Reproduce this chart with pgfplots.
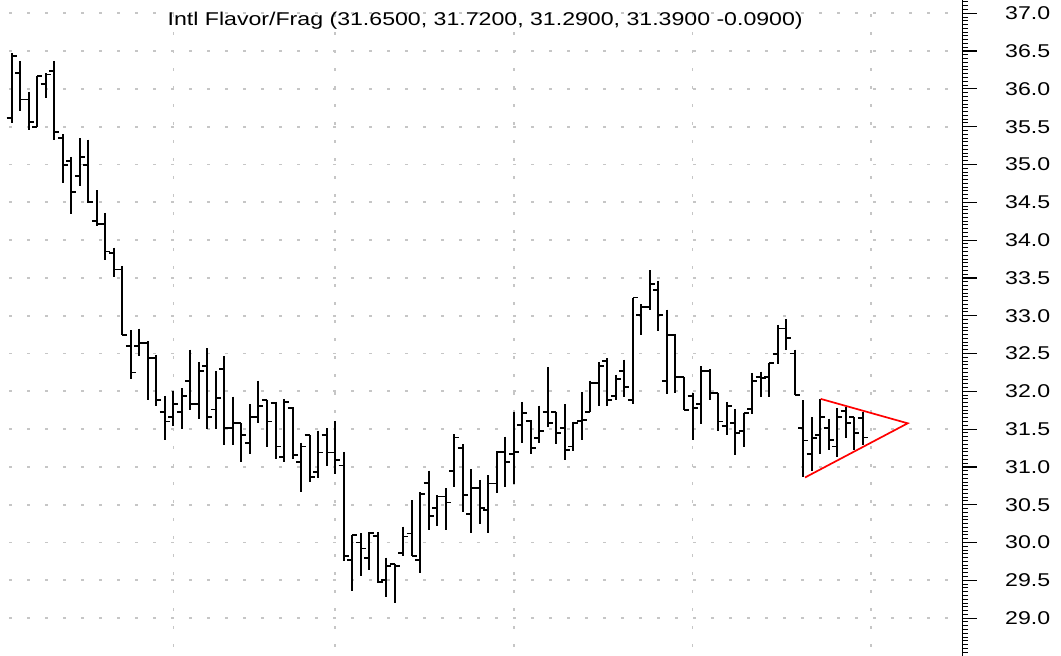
\documentclass[border=0pt]{standalone}
\usepackage{fontspec}
\setmainfont{Liberation Sans}[FakeStretch=1.25]
\usepackage{pgfplots}
\usepackage{pgfplotstable}
\pgfplotsset{compat=1.18}
\pgfdeclareplotmark{openl}{\pgfpathmoveto{\pgfqpoint{-5pt}{0pt}}\pgfpathlineto{\pgfqpoint{0pt}{0pt}}\pgfusepathqstroke}
\pgfdeclareplotmark{closer}{\pgfpathmoveto{\pgfqpoint{0pt}{0pt}}\pgfpathlineto{\pgfqpoint{5pt}{0pt}}\pgfusepathqstroke}
\pgfplotstableread{
i o h l c
1 35.62 36.47 35.55 36.43
2 36.21 36.37 35.71 35.86
3 35.86 35.96 35.46 35.56
4 35.50 36.17 35.50 36.17
5 36.06 36.21 35.88 36.19
6 36.24 36.37 35.32 35.43
7 35.35 35.40 34.76 34.99
8 35.05 35.10 34.35 34.64
9 34.85 35.35 34.71 35.10
10 34.99 35.33 34.49 34.50
11 34.25 34.66 34.18 34.21
12 34.21 34.36 33.74 33.85
13 33.83 33.90 33.51 33.61
14 33.61 33.66 32.74 32.74
15 32.60 32.81 32.16 32.25
16 32.60 32.83 32.47 32.64
17 32.64 32.66 31.88 32.44
18 32.44 32.48 31.80 31.89
19 31.73 31.94 31.36 31.60
20 31.66 32.01 31.54 31.83
21 31.73 32.04 31.50 31.94
22 32.14 32.55 31.75 31.83
23 31.83 32.39 31.63 32.27
24 32.34 32.57 31.50 31.66
25 31.76 32.27 31.50 31.91
26 32.29 32.47 31.29 31.52
27 31.51 31.93 31.29 31.58
28 31.58 31.58 31.06 31.42
29 31.32 31.83 31.17 31.66
30 31.66 32.14 31.58 31.81
31 31.88 31.89 31.27 31.60
32 31.85 31.86 31.11 31.27
33 31.13 31.90 31.06 31.86
34 31.78 31.79 31.11 31.16
35 31.07 31.32 30.67 31.27
36 31.42 31.42 30.80 30.87
37 30.93 31.48 30.85 31.19
38 31.42 31.51 31.01 31.19
39 31.19 31.61 30.91 31.09
40 31.02 31.20 29.75 29.82
41 29.77 30.10 29.36 30.10
42 30.00 30.12 29.56 29.92
43 29.79 30.14 29.64 30.13
44 30.09 30.14 29.46 29.48
45 29.50 29.80 29.28 29.69
46 29.72 29.72 29.20 29.69
47 29.86 30.21 29.82 30.08
48 30.12 30.56 29.82 29.82
49 29.77 30.67 29.60 30.64
50 30.79 30.95 30.17 30.35
51 30.46 30.63 30.22 30.61
52 30.61 30.72 30.17 30.53
53 30.95 31.43 30.73 31.39
54 31.25 31.30 30.40 30.63
55 30.38 30.97 30.12 30.72
56 30.72 30.83 30.24 30.46
57 30.43 30.89 30.12 30.78
58 30.78 31.21 30.66 31.20
59 31.20 31.40 30.74 31.07
60 31.17 31.73 30.78 31.20
61 31.55 31.86 31.32 31.71
62 31.61 31.62 31.17 31.25
63 31.38 31.81 31.31 31.47
64 31.73 32.32 31.53 31.58
65 31.73 31.73 31.30 31.45
66 31.51 31.83 31.09 31.22
67 31.27 31.60 31.21 31.58
68 31.61 31.99 31.35 31.62
69 31.73 32.14 31.73 32.11
70 32.11 32.39 31.81 32.33
71 32.40 32.44 31.80 31.89
72 31.94 32.22 31.88 32.16
73 32.27 32.42 31.92 32.06
74 31.88 33.24 31.83 33.24
75 33.01 33.15 32.74 33.11
76 33.11 33.60 33.08 33.42
77 33.34 33.46 32.80 33.01
78 32.14 33.08 31.97 32.75
79 32.75 32.76 31.98 32.19
80 32.19 32.19 31.75 31.75
81 31.94 31.98 31.36 31.78
82 31.83 32.33 31.57 32.27
83 32.27 32.29 31.89 31.98
84 31.98 31.98 31.47 31.60
85 31.54 31.86 31.42 31.81
86 31.58 31.76 31.16 31.45
87 31.48 31.71 31.27 31.71
88 31.77 32.24 31.70 32.14
89 32.19 32.26 31.93 32.18
90 32.19 32.38 31.93 32.37
91 32.49 32.88 32.36 32.83
92 32.83 32.95 32.55 32.70
93 32.50 32.55 31.95 31.95
94 31.52 31.88 30.86 31.35
95 31.17 31.66 30.94 31.38
96 31.42 31.90 31.17 31.66
97 31.52 31.64 31.23 31.36
98 31.27 31.78 31.13 31.66
99 31.74 31.79 31.38 31.58
100 31.66 31.66 31.23 31.45
101 31.65 31.72 31.29 31.39
}\ohlc
\begin{document}
\begin{tikzpicture}
\path[use as bounding box] (0,0) rectangle (1061pt,656pt);
\begin{axis}[
  at={(0pt,0pt)}, anchor=south west,
  scale only axis, width=962.7pt, height=656pt,
  xmin=-0.375, xmax=112.75,
  ymin=28.499, ymax=37.176,
  axis y line=right, axis x line=bottom,
  x axis line style={draw=none},
  y axis line style={-, line width=1.3pt, black},
  xtick={20,39,60,81,102}, xticklabels={}, xtick style={draw=none},
  ytick={29,29.5,...,37},
  minor ytick={28.55,28.6,...,37.16},
  tick align=outside,
  major tick length=14pt, minor tick length=5pt,
  ytick style={line width=1.2pt, black},
  minor y tick style={line width=1pt, black},
  xmajorgrids, ymajorgrids,
  major grid style={line width=1.7pt, gray!45, dash pattern=on 2.7pt off 15.3pt, dash phase=8.7pt},
  yticklabel pos=right,
  yticklabel style={anchor=west, font=\fontsize{18.5}{21}\selectfont, xshift=25pt},
  /pgf/number format/assume math mode=true,
  yticklabel={\pgfmathprintnumber[fixed, fixed zerofill, precision=1]{\tick}},
  clip=false,
]
\addplot[draw=none, error bars/.cd, y dir=minus, y explicit, error mark=none,
  error bar style={draw=black, line width=2pt}]
  table[x=i, y=h, y error minus expr=\thisrow{h}-\thisrow{l}] {\ohlc};
\addplot[only marks, mark=openl, mark options={line width=1.8pt, black}] table[x=i, y=o] {\ohlc};
\addplot[only marks, mark=closer, mark options={line width=1.8pt, black}] table[x=i, y=c] {\ohlc};
\addplot[red, line width=1.7pt] coordinates {(96.06,31.90) (106.29,31.577) (94.22,30.86)};
\node[anchor=base, font=\fontsize{18.5}{21}\selectfont, inner sep=0pt] at (rel axis cs:0.504,0.9614)
  {Intl Flavor/Frag (31.6500, 31.7200, 31.2900, 31.3900 -0.0900)};
\end{axis}
\end{tikzpicture}
\end{document}
